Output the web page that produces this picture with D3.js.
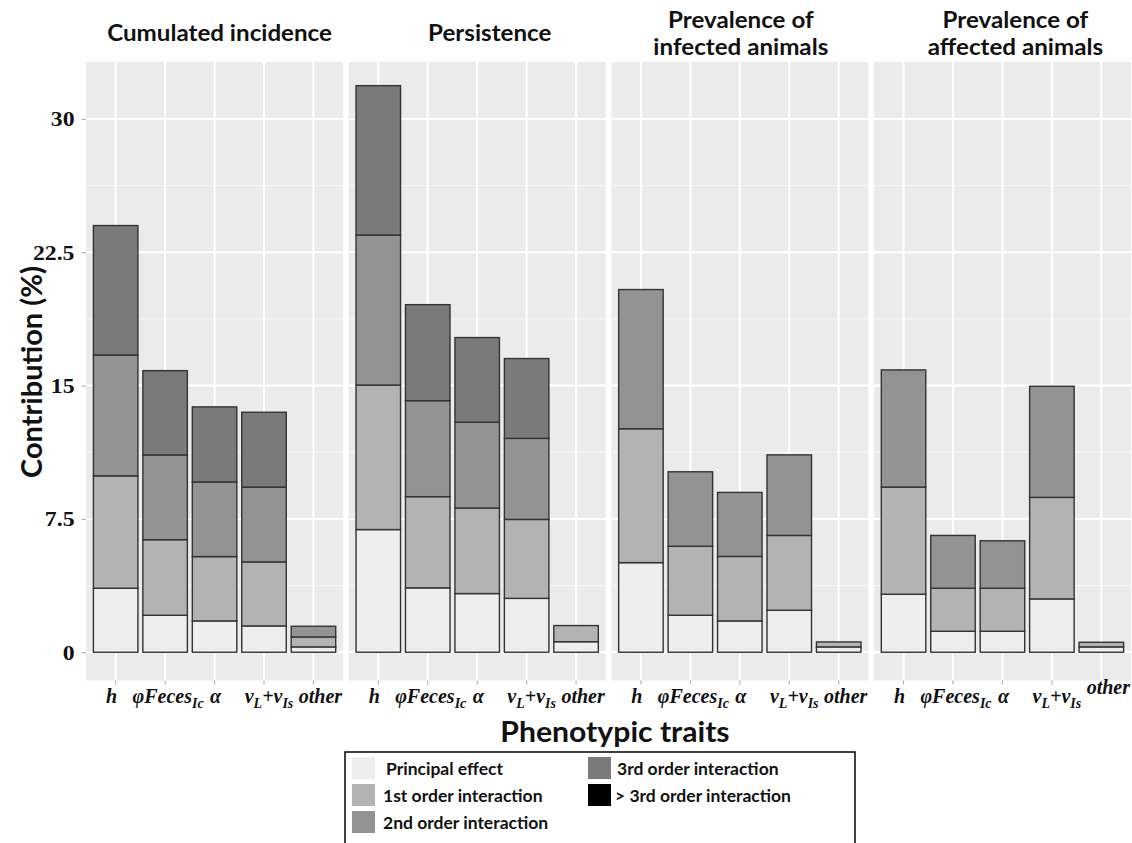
<!DOCTYPE html>
<html>
<head>
<meta charset="utf-8">
<script src="https://cdn.jsdelivr.net/npm/d3@7"></script>
<style>
  body { margin: 0; background: #ffffff; }
  svg { display: block; }
</style>
</head>
<body>
<svg id="chart" width="1132" height="843"></svg>
<script>
// ---- data -------------------------------------------------------------
const traits = ["h", "φFeces_Ic", "α", "v_L+v_Is", "other"];
const facetTitles = [
  ["Cumulated incidence"],
  ["Persistence"],
  ["Prevalence of", "infected animals"],
  ["Prevalence of", "affected animals"]
];
const effectOrders = [
  "Principal effect",
  "1st order interaction",
  "2nd order interaction",
  "3rd order interaction",
  "> 3rd order interaction"
];
const yTicks = [0, 7.5, 15, 22.5, 30];
const yTickLabels = ["0", "7.5", "15", "22.5", "30"];

// contribution (%) of each interaction order, one value per trait
const cumulatedIncidence = {
  principal: [3.6, 2.08, 1.76, 1.48, 0.3],
  first:     [6.32, 4.25, 3.62, 3.6, 0.56],
  second:    [6.8, 4.77, 4.2, 4.21, 0.6],
  third:     [7.28, 4.74, 4.22, 4.21, 0],
  higher:    [0, 0, 0, 0, 0]
};
const persistence = {
  principal: [6.9, 3.62, 3.3, 3.03, 0.59],
  first:     [8.13, 5.13, 4.81, 4.44, 0.91],
  second:    [8.44, 5.4, 4.83, 4.56, 0],
  third:     [8.4, 5.4, 4.76, 4.49, 0],
  higher:    [0, 0, 0, 0, 0]
};
const prevalenceInfected = {
  principal: [5.04, 2.08, 1.76, 2.36, 0.3],
  first:     [7.53, 3.88, 3.63, 4.21, 0.28],
  second:    [7.83, 4.19, 3.6, 4.53, 0],
  third:     [0, 0, 0, 0, 0],
  higher:    [0, 0, 0, 0, 0]
};
const prevalenceAffected = {
  principal: [3.26, 1.18, 1.18, 3.0, 0.3],
  first:     [6.03, 2.42, 2.42, 5.71, 0.26],
  second:    [6.59, 2.97, 2.67, 6.25, 0],
  third:     [0, 0, 0, 0, 0],
  higher:    [0, 0, 0, 0, 0]
};
const facetData = [cumulatedIncidence, persistence, prevalenceInfected, prevalenceAffected];
const orderKeys = ["principal", "first", "second", "third", "higher"];

// ---- layout -----------------------------------------------------------
const svg = d3.select("#chart");
const panelLeft = 86, panelRight = 1131, panelGap = 5.5;
const panelTop = 62, panelBottom = 680.5;
const panelW = (panelRight - panelLeft - 3 * panelGap) / 4;

const y = d3.scaleLinear().domain([-1.59, 33.2]).range([panelBottom, panelTop]);
const x = d3.scaleBand().domain(traits).range([0, panelW])
  .paddingInner(0.1).paddingOuter(0.15);
const fill = d3.scaleOrdinal(effectOrders,
  ["#eeeeee", "#b3b3b3", "#939393", "#7a7a7a", "#000000"]);

const sansBold = "Lato, 'Open Sans', sans-serif";
const serif = "'Liberation Serif', 'DejaVu Serif', serif";

// widen a text element horizontally by a factor
function stretch(sel, k) {
  sel.each(function () {
    const w = this.getComputedTextLength();
    d3.select(this).attr("textLength", w * k).attr("lengthAdjust", "spacingAndGlyphs");
  });
}

// small horizontal nudges of the trait labels around their ticks
const labelNudge = [-4, 3, 1, 5, 7];

const minorTicks = yTicks.slice(0, -1).map((d, i) => (d + yTicks[i + 1]) / 2);

facetData.forEach((data, fi) => {
  const g = svg.append("g")
    .attr("transform", `translate(${panelLeft + fi * (panelW + panelGap)},0)`);

  g.append("rect")
    .attr("x", 0).attr("y", panelTop)
    .attr("width", panelW).attr("height", panelBottom - panelTop)
    .attr("fill", "#ebebeb");

  // grid
  g.selectAll("line.minor").data(minorTicks).join("line")
    .attr("x1", 0).attr("x2", panelW)
    .attr("y1", d => y(d)).attr("y2", d => y(d))
    .attr("stroke", "#f7f7f7").attr("stroke-width", 1);
  g.selectAll("line.major").data(yTicks).join("line")
    .attr("x1", 0).attr("x2", panelW)
    .attr("y1", d => y(d)).attr("y2", d => y(d))
    .attr("stroke", "#ffffff").attr("stroke-width", 2);
  g.selectAll("line.vgrid").data(traits).join("line")
    .attr("x1", d => x(d) + x.bandwidth() / 2).attr("x2", d => x(d) + x.bandwidth() / 2)
    .attr("y1", panelTop).attr("y2", panelBottom)
    .attr("stroke", "#ffffff").attr("stroke-width", 2);

  // stacked bars
  const rows = traits.map((t, j) => {
    const r = { trait: t };
    effectOrders.forEach((o, k) => { r[o] = data[orderKeys[k]][j]; });
    return r;
  });
  const series = d3.stack().keys(effectOrders)(rows);
  g.selectAll("g.layer").data(series).join("g")
    .attr("fill", d => fill(d.key))
    .selectAll("rect")
    .data(d => d.filter(s => s[1] - s[0] > 0))
    .join("rect")
    .attr("x", d => x(d.data.trait))
    .attr("width", x.bandwidth())
    .attr("y", d => y(d[1]))
    .attr("height", d => y(d[0]) - y(d[1]))
    .attr("stroke", "#333333")
    .attr("stroke-width", 1.4);

  // x axis
  const xAxis = g.append("g")
    .attr("transform", `translate(0,${panelBottom})`)
    .call(d3.axisBottom(x).tickSize(4).tickFormat(""));
  xAxis.select(".domain").remove();
  xAxis.selectAll(".tick line").attr("stroke", "#aaaaaa");

  traits.forEach((t, j) => {
    const raise = (fi === 3 && t === "other") ? -9 : 0;
    const txt = g.append("text")
      .attr("x", x(t) + x.bandwidth() / 2 + labelNudge[j])
      .attr("y", 703 + raise)
      .attr("text-anchor", "middle")
      .attr("font-family", serif)
      .attr("font-weight", "bold")
      .attr("font-style", "italic")
      .attr("font-size", 20)
      .attr("fill", "#111111");
    // split "_sub" parts into subscripts
    const parts = t.split(/_([A-Za-z]+)/);
    let shifted = false;
    parts.forEach((p, k) => {
      if (!p) return;
      const isSub = k % 2 === 1;
      const ts = txt.append("tspan").text(p);
      if (isSub) {
        ts.attr("font-size", 14).attr("dy", shifted ? 0 : 5);
        shifted = true;
      } else if (shifted) {
        ts.attr("dy", -5);
        shifted = false;
      }
    });
  });

  // facet title
  const cx = panelW / 2 + [5, 12.5, 1, 13][fi];
  const lines = facetTitles[fi];
  const baselines = lines.length === 1 ? [41] : [28, 55];
  lines.forEach((line, li) => {
    g.append("text")
      .attr("x", cx).attr("y", baselines[li])
      .attr("text-anchor", "middle")
      .attr("font-family", sansBold)
      .attr("font-weight", "bold")
      .attr("font-size", 23)
      .attr("fill", "#111111")
      .text(line)
      .call(stretch, 1.05);
  });
});

// y axis
const yAxis = svg.append("g")
  .attr("transform", `translate(${panelLeft},0)`)
  .call(d3.axisLeft(y).tickValues(yTicks)
    .tickFormat((d, i) => yTickLabels[i]).tickSize(4.5).tickPadding(7));
yAxis.select(".domain").remove();
yAxis.selectAll(".tick line").attr("stroke", "#aaaaaa");
yAxis.selectAll(".tick text")
  .attr("font-family", serif)
  .attr("font-weight", "bold")
  .attr("font-size", 22)
  .attr("fill", "#111111")
  .call(stretch, 1.08);

// axis titles
svg.append("text")
  .attr("transform", `translate(42,372) rotate(-90)`)
  .attr("text-anchor", "middle")
  .attr("font-family", sansBold)
  .attr("font-weight", "bold")
  .attr("font-size", 29)
  .attr("fill", "#111111")
  .text("Contribution (%)");

svg.append("text")
  .attr("x", 615).attr("y", 742)
  .attr("text-anchor", "middle")
  .attr("font-family", sansBold)
  .attr("font-weight", "bold")
  .attr("font-size", 29)
  .attr("fill", "#111111")
  .text("Phenotypic traits")
  .call(stretch, 1.04);

// legend
const legendX = 345, legendY = 752;
const legend = svg.append("g");
legend.append("rect")
  .attr("x", legendX).attr("y", legendY)
  .attr("width", 510).attr("height", 110)
  .attr("fill", "#ffffff")
  .attr("stroke", "#111111").attr("stroke-width", 1.6);

const legendTextX = [41, 38, 38, 272, 270];
effectOrders.forEach((o, i) => {
  const col = i < 3 ? 0 : 1;
  const row = i < 3 ? i : i - 3;
  const kx = legendX + 7 + col * 236;
  const ky = legendY + 5 + row * 27;
  legend.append("rect")
    .attr("x", kx).attr("y", ky)
    .attr("width", 23).attr("height", 22)
    .attr("fill", fill(o));
  legend.append("text")
    .attr("x", legendX + legendTextX[i])
    .attr("y", ky + 18)
    .attr("font-family", sansBold)
    .attr("font-weight", "bold")
    .attr("font-size", 17.5)
    .attr("fill", "#111111")
    .text(o);
});
</script>
</body>
</html>
